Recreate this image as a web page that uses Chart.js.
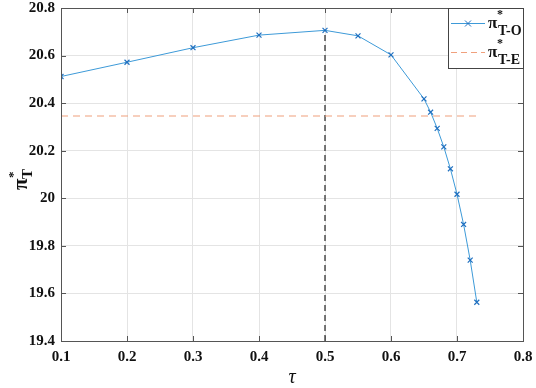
<!doctype html>
<html lang="en">
  <head>
    <meta charset="utf-8">
    <title>pi_T vs tau</title>
    <style>
      html, body { margin: 0; padding: 0; background: #fff; }
      #wrap { width: 536px; height: 388px; }
    </style>
  </head>
  <body>
    <div id="wrap"><canvas id="chart" width="536" height="388"></canvas></div>

    <script src="https://cdn.jsdelivr.net/npm/chart.js"></script>
    <script>
      // values
      var tau  = [0.1, 0.2, 0.3, 0.4, 0.5, 0.55, 0.6, 0.65, 0.66, 0.67, 0.68, 0.69, 0.7, 0.71, 0.72, 0.73]
      var piTO = [20.512, 20.572, 20.633, 20.686, 20.706, 20.683, 20.603, 20.418, 20.362, 20.294, 20.216, 20.124, 20.017, 19.89, 19.74, 19.563]
      var piTE = 20.346
      var teRange = [0.1, 0.73]
      var tauMark = 0.5
      var xTicks = [0.1, 0.2, 0.3, 0.4, 0.5, 0.6, 0.7, 0.8]
      var yTicks = [19.4, 19.6, 19.8, 20, 20.2, 20.4, 20.6, 20.8]

      var serif = "'Liberation Serif', 'DejaVu Serif', serif"
      var blue = '#3d9ad8'
      var orange = '#f0a07c'

      var toPoints = function (xs, ys) { return xs.map(function (x, i) { return {x: x, y: ys[i]} }) }

      // box, inward ticks, axis titles and the legend, MATLAB style
      var extras = {
        id: 'extras',
        afterDraw: function (chart) {
          var ctx = chart.ctx
          var a = chart.chartArea
          var xs = chart.scales.x, ys = chart.scales.y
          ctx.save()
          ctx.strokeStyle = '#555'
          ctx.lineWidth = 1
          ctx.beginPath()
          xTicks.forEach(function (t) {
            var px = Math.round(xs.getPixelForValue(t)) + 0.5
            ctx.moveTo(px, a.bottom); ctx.lineTo(px, a.bottom - 5)
            ctx.moveTo(px, a.top); ctx.lineTo(px, a.top + 5)
          })
          yTicks.forEach(function (t) {
            var py = Math.round(ys.getPixelForValue(t)) + 0.5
            ctx.moveTo(a.left, py); ctx.lineTo(a.left + 5, py)
            ctx.moveTo(a.right, py); ctx.lineTo(a.right - 5, py)
          })
          ctx.stroke()
          ctx.strokeRect(Math.round(a.left) + 0.5, Math.round(a.top) + 0.5,
                         Math.round(a.right - a.left), Math.round(a.bottom - a.top))

          // x title
          ctx.fillStyle = '#111'
          ctx.textAlign = 'center'
          ctx.textBaseline = 'alphabetic'
          ctx.font = 'italic 20px ' + serif
          ctx.fillText('τ', (a.left + a.right) / 2, 383)

          // y title, rotated
          ctx.save()
          ctx.translate(27, 182)
          ctx.rotate(-Math.PI / 2)
          ctx.textAlign = 'left'
          ctx.font = 'bold 21px ' + serif
          ctx.fillText('π', -8, 0)
          ctx.font = 'bold 15px ' + serif
          ctx.fillText('T', 3, 5)
          ctx.font = 'bold 13px ' + serif
          ctx.fillText('*', 4, -10)
          ctx.restore()

          // legend
          var lx = 448, ly = Math.round(a.top) + 0.5, lw = Math.round(a.right) - lx, lh = 60
          ctx.fillStyle = '#fff'
          ctx.fillRect(lx, ly, lw, lh)
          ctx.strokeStyle = '#444'
          ctx.strokeRect(lx + 0.5, ly, lw, lh)
          var rows = [
            {y: a.top + 15.5, color: blue, dash: [], marker: true, sub: 'T-O'},
            {y: a.top + 44.5, color: orange, dash: [6, 4], marker: false, sub: 'T-E'}
          ]
          rows.forEach(function (r) {
            ctx.strokeStyle = r.color
            ctx.lineWidth = 1
            ctx.setLineDash(r.dash)
            ctx.beginPath()
            ctx.moveTo(451, r.y); ctx.lineTo(485, r.y)
            ctx.stroke()
            ctx.setLineDash([])
            if (r.marker) {
              ctx.strokeStyle = '#1f6fbf'
              ctx.beginPath()
              ctx.moveTo(465, r.y - 3); ctx.lineTo(471, r.y + 3)
              ctx.moveTo(465, r.y + 3); ctx.lineTo(471, r.y - 3)
              ctx.stroke()
            }
            ctx.fillStyle = '#111'
            ctx.textAlign = 'left'
            ctx.font = 'bold 17px ' + serif
            ctx.fillText('π', 488, r.y + 4)
            ctx.font = 'bold 12px ' + serif
            ctx.fillText('*', 497, r.y - 6)
            ctx.font = 'bold 14px ' + serif
            ctx.fillText(r.sub, 498, r.y + 11)
          })
          ctx.restore()
        }
      }

      new Chart(document.getElementById('chart'), {
        type: 'line',
        data: {
          datasets: [
            {
              label: 'π*T-O',
              data: toPoints(tau, piTO),
              borderColor: blue,
              borderWidth: 1,
              pointStyle: 'crossRot',
              pointRadius: 3.5,
              pointBorderColor: '#1f6fbf',
              pointBorderWidth: 1.2,
              fill: false,
              tension: 0
            },
            {
              label: 'π*T-E',
              data: toPoints(teRange, [piTE, piTE]),
              borderColor: orange,
              borderWidth: 1.2,
              borderDash: [7, 5],
              pointRadius: 0,
              fill: false
            },
            {
              label: 'tau mark',
              data: toPoints([tauMark, tauMark], [yTicks[0], piTO[tau.indexOf(tauMark)]]),
              borderColor: '#222',
              borderWidth: 1.2,
              borderDash: [6, 4],
              pointRadius: 0,
              fill: false
            }
          ]
        },
        options: {
          responsive: false,
          animation: false,
          layout: { padding: { top: 8, right: 13, left: 0, bottom: 0 } },
          plugins: { legend: { display: false }, tooltip: { enabled: false } },
          scales: {
            x: {
              type: 'linear',
              min: 0.1, max: 0.8,
              afterFit: function (axis) {
                axis.height = 47
                axis.paddingLeft = 0
                axis.paddingRight = 0
              },
              afterBuildTicks: function (axis) { axis.ticks = xTicks.map(function (v) { return {value: v} }) },
              grid: { color: '#e4e4e4', drawTicks: false },
              border: { display: false },
              ticks: {
                padding: 7,
                color: '#111',
                font: { family: serif, size: 15, weight: 'bold' },
                callback: function (v) { return v.toFixed(1) }
              }
            },
            y: {
              min: 19.4, max: 20.8,
              afterFit: function (axis) {
                axis.width = 61
                axis.paddingTop = 0
                axis.paddingBottom = 0
              },
              afterBuildTicks: function (axis) { axis.ticks = yTicks.map(function (v) { return {value: v} }) },
              grid: { color: '#e4e4e4', drawTicks: false },
              border: { display: false },
              ticks: {
                padding: 6,
                color: '#111',
                font: { family: serif, size: 15, weight: 'bold' },
                callback: function (v) { return String(Number(v.toFixed(1))) }
              }
            }
          }
        },
        plugins: [extras]
      })
    </script>
  </body>
</html>
